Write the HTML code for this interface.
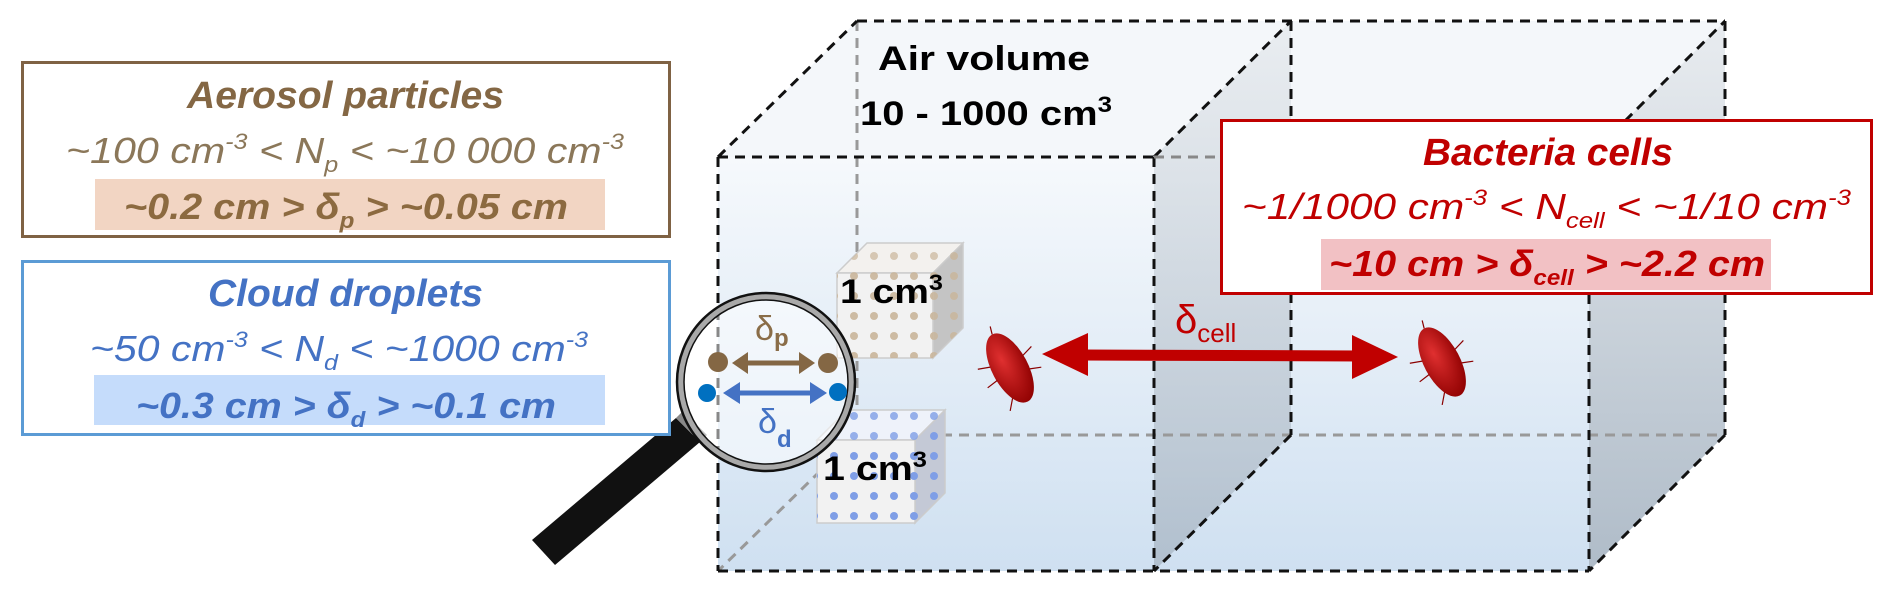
<!DOCTYPE html>
<html><head><meta charset="utf-8"><style>
html,body{margin:0;padding:0;background:#fff;}
svg{display:block;}
text{font-family:"Liberation Sans",sans-serif;}
</style></head><body>
<svg width="1892" height="593" viewBox="0 0 1892 593" xmlns="http://www.w3.org/2000/svg">
<defs>
<linearGradient id="fg" x1="0" y1="0" x2="0" y2="1">
<stop offset="0" stop-color="#f6f9fc"/><stop offset="1" stop-color="#cfe0f1"/></linearGradient>
<linearGradient id="sg" x1="0" y1="0" x2="0" y2="1">
<stop offset="0" stop-color="#e6eaee"/><stop offset="1" stop-color="#a6b4c2"/></linearGradient>
<pattern id="bd" width="20" height="20" patternUnits="userSpaceOnUse" x="4" y="6"><circle cx="10" cy="10" r="4" fill="#c9b59a"/></pattern>
<pattern id="bld" width="20" height="20" patternUnits="userSpaceOnUse" x="4" y="6"><circle cx="10" cy="10" r="4" fill="#7f9ee6"/></pattern>
<radialGradient id="bac" cx="0.4" cy="0.35" r="0.7">
<stop offset="0" stop-color="#e03030"/><stop offset="1" stop-color="#8e0000"/></radialGradient>
</defs>

<polygon points="718,157 857,21 1725,21 1589,157" fill="#f4f7fa"/>
<rect x="718" y="157" width="871" height="414" fill="url(#fg)"/>
<polygon points="1154,157 1291,21 1291,435 1154,571" fill="url(#sg)" opacity="0.75"/>
<polygon points="1589,157 1725,21 1725,435 1589,571" fill="url(#sg)" opacity="0.9"/>

<g stroke="#999" stroke-width="3" stroke-dasharray="10,7" fill="none">
<line x1="857" y1="21" x2="857" y2="435"/>
<line x1="857" y1="435" x2="1725" y2="435"/>
<line x1="857" y1="435" x2="718" y2="571"/>
</g>
<g stroke="#111" stroke-width="3" stroke-dasharray="10,7" fill="none">
<line x1="857" y1="21" x2="1725" y2="21"/>
<line x1="718" y1="157" x2="857" y2="21"/>
<line x1="1154" y1="157" x2="1291" y2="21"/>
<line x1="1589" y1="157" x2="1725" y2="21"/>
<line x1="718" y1="157" x2="1154" y2="157"/>
<line x1="718" y1="157" x2="718" y2="571"/>
<line x1="1154" y1="157" x2="1154" y2="571"/>
<line x1="1589" y1="294" x2="1589" y2="571"/>
<line x1="1291" y1="21" x2="1291" y2="435"/>
<line x1="1725" y1="21" x2="1725" y2="435"/>
<line x1="1291" y1="435" x2="1154" y2="571"/>
<line x1="1725" y1="435" x2="1589" y2="571"/>
<line x1="718" y1="571" x2="1589" y2="571"/>
</g>
<line x1="1154" y1="157" x2="1220" y2="157" stroke="#888" stroke-width="3" stroke-dasharray="10,7"/>

<text x="878" y="70" font-size="34" font-weight="bold" fill="#000" textLength="212" lengthAdjust="spacingAndGlyphs">Air volume</text>
<text x="860" y="125" font-size="34" font-weight="bold" fill="#000" textLength="252" lengthAdjust="spacingAndGlyphs">10 - 1000 cm<tspan dy="-13" font-size="22">3</tspan></text>

<polygon points="837,273 867,243 963,243 933,273" fill="#f3f1ee" stroke="#ccc" stroke-width="1.5"/>
<polygon points="933,273 963,243 963,328 933,358" fill="#c4c4c4" stroke="#ccc" stroke-width="1.5"/>
<rect x="837" y="273" width="96" height="85" fill="#f2f2f2" stroke="#ccc" stroke-width="1.5"/>
<polygon points="837,273 867,243 963,243 933,273" fill="url(#bd)" opacity="0.7"/>
<polygon points="933,273 963,243 963,328 933,358" fill="url(#bd)" opacity="0.8"/>
<rect x="837" y="273" width="96" height="85" fill="url(#bd)" opacity="0.9"/>
<text x="840" y="303" font-size="34" font-weight="bold" fill="#000" textLength="103" lengthAdjust="spacingAndGlyphs">1 cm<tspan dy="-13" font-size="22">3</tspan></text>

<polygon points="817,440 847,410 945,410 915,440" fill="#eef2fa" stroke="#ccc" stroke-width="1.5"/>
<polygon points="915,440 945,410 945,493 915,523" fill="#c4c9d6" stroke="#ccc" stroke-width="1.5"/>
<rect x="817" y="440" width="98" height="83" fill="#f2f2f2" stroke="#ccc" stroke-width="1.5"/>
<polygon points="817,440 847,410 945,410 915,440" fill="url(#bld)" opacity="0.8"/>
<polygon points="915,440 945,410 945,493 915,523" fill="url(#bld)"/>
<rect x="817" y="440" width="98" height="83" fill="url(#bld)"/>
<text x="823" y="480" font-size="34" font-weight="bold" fill="#000" textLength="104" lengthAdjust="spacingAndGlyphs">1 cm<tspan dy="-13" font-size="22">3</tspan></text>

<polygon points="676,418 700,442 555,565 532,540" fill="#111"/>
<polygon points="676,418 700,442 707,435 683,411" fill="#888"/>
<circle cx="766" cy="382" r="86" fill="#ffffff" fill-opacity="0.5" stroke="#a9a9a9" stroke-width="7"/>
<circle cx="766" cy="382" r="89" fill="none" stroke="#111" stroke-width="2.5"/>
<circle cx="766" cy="382" r="82" fill="none" stroke="#111" stroke-width="1.5"/>
<text x="755" y="340" font-size="34" fill="#8a6d48">δ<tspan dy="6" font-size="24" font-weight="bold">p</tspan></text>
<circle cx="718" cy="362" r="10" fill="#846744"/>
<circle cx="828" cy="363" r="10" fill="#846744"/>
<line x1="742" y1="363" x2="805" y2="363" stroke="#846744" stroke-width="5"/>
<polygon points="732,363 748,352 748,374" fill="#846744"/>
<polygon points="815,363 799,352 799,374" fill="#846744"/>
<circle cx="707" cy="393" r="9" fill="#0070c0"/>
<circle cx="838" cy="392" r="9" fill="#0070c0"/>
<line x1="733" y1="393" x2="817" y2="393" stroke="#4472c4" stroke-width="5"/>
<polygon points="723,393 740,382 740,404" fill="#4472c4"/>
<polygon points="827,393 810,382 810,404" fill="#4472c4"/>
<text x="758" y="433" font-size="34" fill="#4472c4">δ<tspan dy="14" font-size="24" font-weight="bold">d</tspan></text>

<line x1="1080" y1="355" x2="1360" y2="356" stroke="#c00000" stroke-width="11"/>
<polygon points="1042,354 1088,333 1088,376" fill="#c00000"/>
<polygon points="1398,357 1352,335 1352,379" fill="#c00000"/>
<text x="1175" y="333" font-size="40" fill="#c00000">δ<tspan dy="9" font-size="26">cell</tspan></text>

<g transform="translate(1010,368) rotate(-28)">
<ellipse cx="0" cy="0" rx="18" ry="38" fill="url(#bac)"/>
<g stroke="#8a0000" stroke-width="1.2" fill="none"><path d="M-17,-10 l-12,-4 M-17,5 l-12,2 M17,-5 l12,-4 M17,10 l11,4 M-12,28 l-8,10 M0,-38 l2,-8"/></g>
</g>
<g transform="translate(1442,362) rotate(-28)">
<ellipse cx="0" cy="0" rx="18" ry="38" fill="url(#bac)"/>
<g stroke="#8a0000" stroke-width="1.2" fill="none"><path d="M-17,-10 l-12,-4 M-17,5 l-12,2 M17,-5 l12,-4 M17,10 l11,4 M-12,28 l-8,10 M0,-38 l2,-8"/></g>
</g>

<rect x="22.5" y="62.5" width="647" height="174" fill="#fff" stroke="#7f6244" stroke-width="3"/>
<text x="187" y="108" font-size="38" font-weight="bold" font-style="italic" fill="#846744" textLength="317" lengthAdjust="spacingAndGlyphs">Aerosol particles</text>
<text x="66" y="163" font-size="36" font-style="italic" fill="#8b7759" textLength="558" lengthAdjust="spacingAndGlyphs">~100 cm<tspan dy="-14" font-size="22">-3</tspan><tspan dy="14"> &lt; N</tspan><tspan dy="9" font-size="22">p</tspan><tspan dy="-9"> &lt; ~10 000 cm</tspan><tspan dy="-14" font-size="22">-3</tspan></text>
<rect x="95" y="179" width="510" height="51" fill="#f2d5c3"/>
<text x="124" y="219" font-size="36" font-weight="bold" font-style="italic" fill="#8c6a40" textLength="444" lengthAdjust="spacingAndGlyphs">~0.2 cm &gt; δ<tspan dy="9" font-size="22">p</tspan><tspan dy="-9"> &gt; ~0.05 cm</tspan></text>

<rect x="22.5" y="261.5" width="647" height="173" fill="#fff" stroke="#5b9bd5" stroke-width="3"/>
<text x="208" y="306" font-size="38" font-weight="bold" font-style="italic" fill="#4472c4" textLength="275" lengthAdjust="spacingAndGlyphs">Cloud droplets</text>
<text x="90" y="361" font-size="36" font-style="italic" fill="#4472c4" textLength="498" lengthAdjust="spacingAndGlyphs">~50 cm<tspan dy="-14" font-size="22">-3</tspan><tspan dy="14"> &lt; N</tspan><tspan dy="9" font-size="22">d</tspan><tspan dy="-9"> &lt; ~1000 cm</tspan><tspan dy="-14" font-size="22">-3</tspan></text>
<rect x="94" y="375" width="511" height="50" fill="#c5dcfb"/>
<text x="136" y="418" font-size="36" font-weight="bold" font-style="italic" fill="#4472c4" textLength="420" lengthAdjust="spacingAndGlyphs">~0.3 cm &gt; δ<tspan dy="9" font-size="22">d</tspan><tspan dy="-9"> &gt; ~0.1 cm</tspan></text>

<rect x="1221.5" y="120.5" width="650" height="173" fill="#fff" stroke="#c00000" stroke-width="3"/>
<text x="1423" y="165" font-size="38" font-weight="bold" font-style="italic" fill="#c00000" textLength="250" lengthAdjust="spacingAndGlyphs">Bacteria cells</text>
<text x="1242" y="219" font-size="36" font-style="italic" fill="#c00000" textLength="609" lengthAdjust="spacingAndGlyphs">~1/1000 cm<tspan dy="-14" font-size="22">-3</tspan><tspan dy="14"> &lt; N</tspan><tspan dy="9" font-size="22">cell</tspan><tspan dy="-9"> &lt; ~1/10 cm</tspan><tspan dy="-14" font-size="22">-3</tspan></text>
<rect x="1321" y="239" width="450" height="51" fill="#f2c1c4"/>
<text x="1329" y="276" font-size="36" font-weight="bold" font-style="italic" fill="#c00000" textLength="436" lengthAdjust="spacingAndGlyphs">~10 cm &gt; δ<tspan dy="9" font-size="22">cell</tspan><tspan dy="-9"> &gt; ~2.2 cm</tspan></text>
</svg>
</body></html>
